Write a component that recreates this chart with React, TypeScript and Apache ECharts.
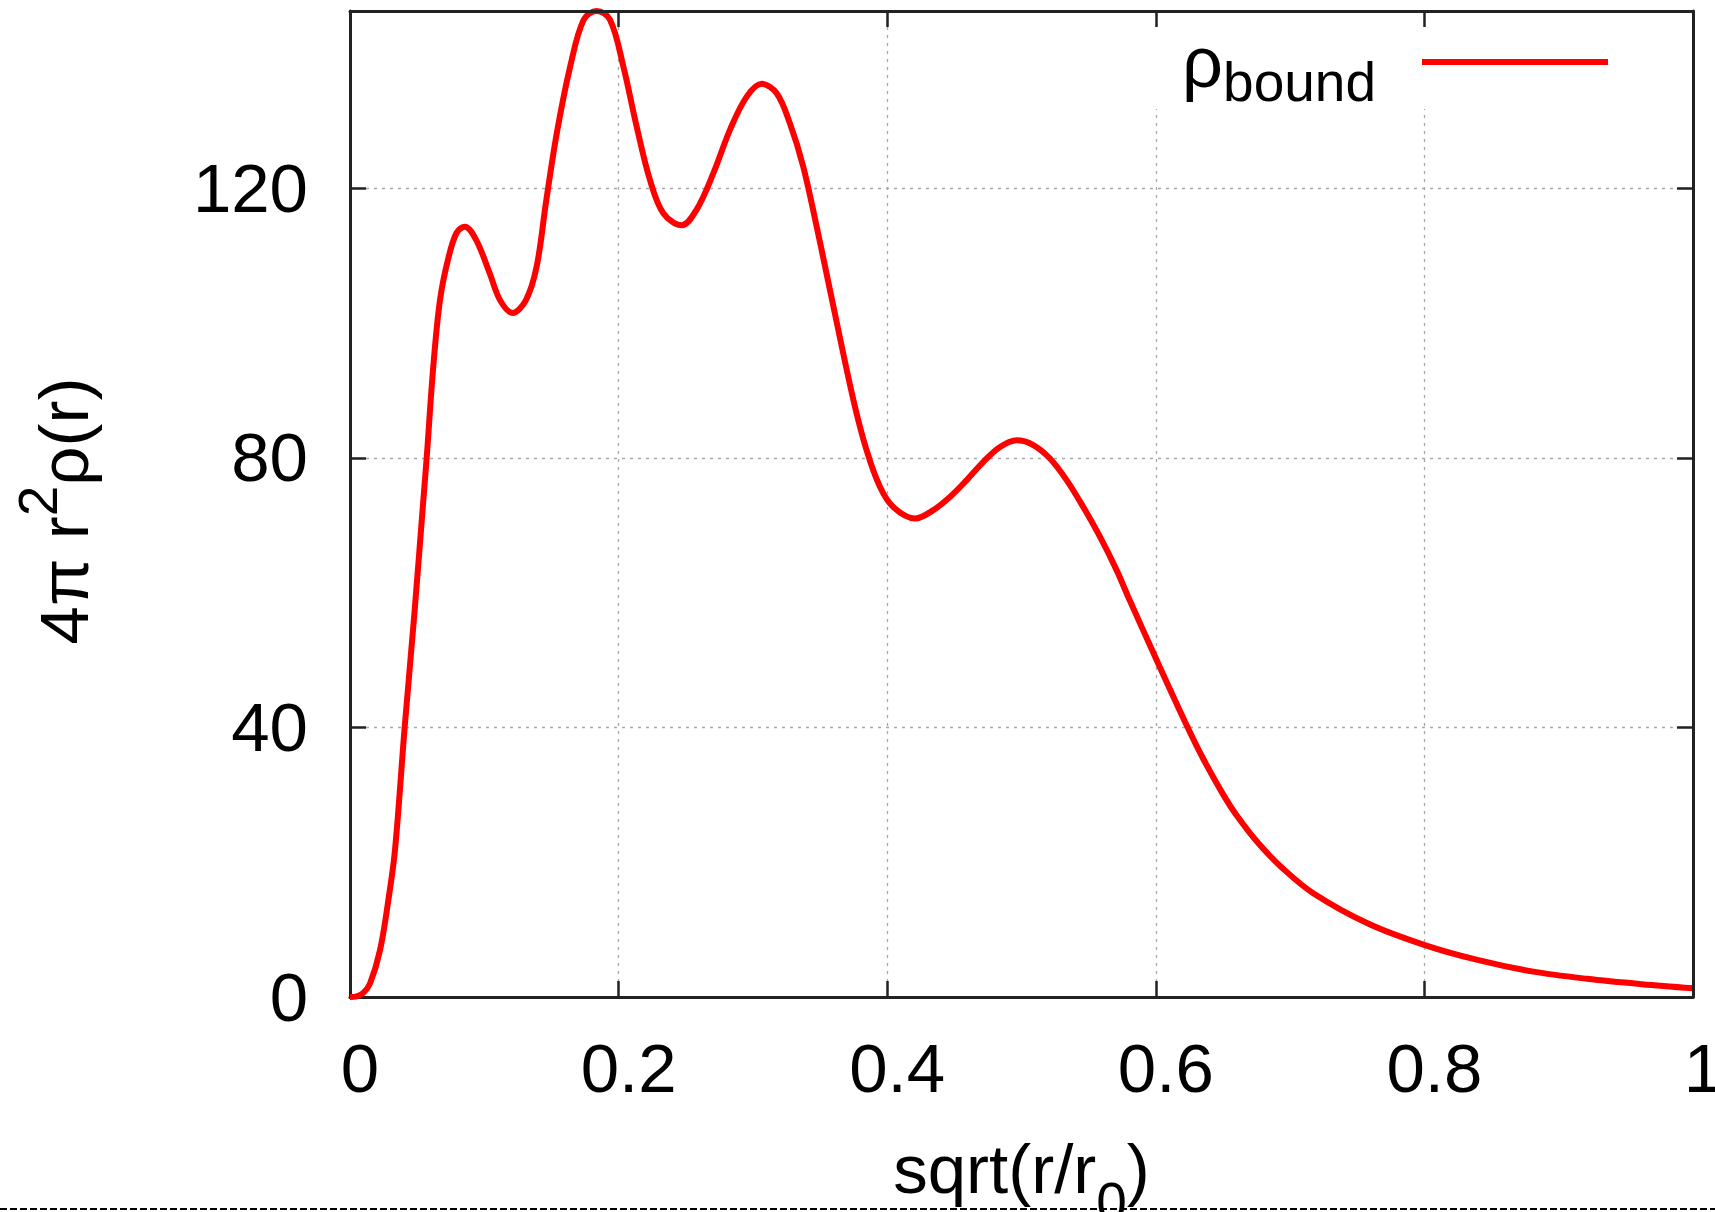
import React, { useEffect, useRef } from 'react';
import * as echarts from 'echarts';

// sqrt(r/r0) sample positions
const xValues = [
  0, 0.005, 0.0099, 0.0149, 0.0223, 0.0285, 0.0335, 0.0407, 0.048, 0.0546,
  0.0571, 0.062, 0.067, 0.0732, 0.0794, 0.0856, 0.094, 0.104, 0.1117, 0.121,
  0.131, 0.139, 0.146, 0.154, 0.164, 0.174, 0.1837, 0.1936, 0.2035, 0.2135,
  0.2234, 0.2333, 0.247, 0.258, 0.2705, 0.283, 0.2954, 0.3066, 0.3177, 0.3276,
  0.3375, 0.3475, 0.3574, 0.3748, 0.3847, 0.3946, 0.4045, 0.4207, 0.434, 0.4467,
  0.4592, 0.4716, 0.484, 0.4964, 0.5088, 0.5212, 0.5336, 0.546, 0.5584, 0.5709,
  0.5794, 0.6006, 0.6235, 0.6357, 0.65, 0.66, 0.6764, 0.695, 0.7172, 0.758,
  0.8003, 0.8395, 0.88, 0.921, 0.9617, 1.0,
];
// 4π r²ρ(r) values
const yValues = [
  0, 0.1, 0.6, 2.0, 6.9, 14.3, 21.8, 40, 57, 73.7,
  80, 93.5, 103.4, 109.6, 113.4, 114.3, 112.3, 107.4, 103.4, 101.5,
  103.4, 108.4, 118, 128.2, 138.1, 145.0, 146.3, 145, 138.1, 129.1,
  121.2, 116.3, 114.5, 116.8, 122.2, 128.7, 133.6, 135.5, 134.1, 129.6,
  123.2, 114.3, 104.9, 88.6, 81.1, 75.7, 72.7, 71.0, 72.2, 74.2,
  76.7, 79.4, 81.6, 82.6, 81.9, 79.9, 76.7, 72.7, 68.3, 63.3,
  59.4, 50.0, 40.1, 35.2, 30.1, 27.0, 22.8, 19.0, 15.4, 10.9,
  7.7, 5.5, 3.8, 2.7, 1.9, 1.3,
];
const xRange = [0, 1];
const xStep = 0.2;
const yRange = [0, 146.3];
const yStep = 40;
const seriesName = 'ρbound';

const FONT = 'Liberation Sans';
const FS = 69;
const FS_SMALL = 55;
const AXIS_COLOR = '#222';
const GRID_COLOR = '#a8a8a8';

export default function App() {
  const ref = useRef<HTMLDivElement>(null);

  useEffect(() => {
    if (!ref.current) return;
    const chart = echarts.init(ref.current, undefined, { renderer: 'svg' });

    const axisLine = { show: true, onZero: false, lineStyle: { color: AXIS_COLOR, width: 3 } };
    const axisTick = { show: true, inside: true, length: 16, lineStyle: { color: AXIS_COLOR, width: 2.5 } };
    const splitLine = { show: true, lineStyle: { color: GRID_COLOR, width: 1.3, type: [3, 5] } };

    const option: any = {
      animation: false,
      backgroundColor: '#ffffff',
      grid: {
        left: 350,
        top: 11,
        right: 22,
        bottom: 215,
        containLabel: false,
        outerBoundsMode: 'none',
      },
      legend: {
        show: true,
        data: [seriesName],
        right: 75,
        top: 11,
        align: 'right',
        orient: 'horizontal',
        padding: [4, 32, 0, 34],
        backgroundColor: '#ffffff',
        icon: 'rect',
        itemWidth: 186,
        itemHeight: 6,
        selectedMode: false,
        formatter: () => '{a|ρ}{b|bound}',
        textStyle: {
          fontFamily: FONT,
          fontSize: FS,
          color: '#000',
          rich: {
            a: { fontFamily: FONT, fontSize: 72, lineHeight: 66, color: '#000' },
            b: {
              fontFamily: FONT,
              fontSize: FS_SMALL,
              lineHeight: 94,
              color: '#000',
              verticalAlign: 'bottom',
              padding: [39, 41, 0, 0],
            },
          },
        },
      },
      xAxis: [
        {
          type: 'value',
          position: 'bottom',
          min: xRange[0],
          max: xRange[1],
          interval: xStep,
          axisLine,
          axisTick,
          splitLine,
          axisLabel: {
            show: true,
            fontFamily: FONT,
            fontSize: FS,
            color: '#000',
            margin: 37,
            padding: [0, 0, 0, 20],
            showMinLabel: true,
            showMaxLabel: true,
            hideOverlap: false,
            formatter: (v: number) => String(Math.round(v * 10) / 10),
          },
          name: '{a|sqrt(r/r}{b|0}{a|)}',
          nameLocation: 'middle',
          nameGap: 113,
          nameMoveOverlap: false,
          nameTextStyle: {
            fontFamily: FONT,
            fontSize: FS,
            color: '#000',
            rich: {
              a: { fontFamily: FONT, fontSize: FS, color: '#000' },
              b: {
                fontFamily: FONT,
                fontSize: FS_SMALL,
                color: '#000',
                verticalAlign: 'bottom',
                padding: [64, 0, 0, 0],
              },
            },
          },
        },
        {
          type: 'value',
          position: 'top',
          min: xRange[0],
          max: xRange[1],
          interval: xStep,
          z: 10,
          axisLine,
          axisTick,
          splitLine: { show: false },
          axisLabel: { show: false },
        },
      ],
      yAxis: [
        {
          type: 'value',
          position: 'left',
          min: yRange[0],
          max: yRange[1],
          interval: yStep,
          axisLine,
          axisTick,
          splitLine,
          axisLabel: {
            show: true,
            fontFamily: FONT,
            fontSize: FS,
            color: '#000',
            margin: 42,
            formatter: (v: number) => (Math.abs(v % yStep) < 1e-9 ? String(v) : ''),
          },
          name: '{a|4π r}{s|2}{a|ρ(r)}',
          nameLocation: 'middle',
          nameRotate: 90,
          nameGap: 231,
          nameMoveOverlap: false,
          nameTextStyle: {
            fontFamily: FONT,
            fontSize: FS,
            color: '#000',
            padding: [0, 14, 0, 0],
            rich: {
              a: { fontFamily: FONT, fontSize: FS, color: '#000' },
              s: {
                fontFamily: FONT,
                fontSize: FS_SMALL,
                color: '#000',
                verticalAlign: 'top',
                padding: [0, 0, 54, 0],
              },
            },
          },
        },
        {
          type: 'value',
          position: 'right',
          min: yRange[0],
          max: yRange[1],
          interval: yStep,
          z: 10,
          axisLine,
          axisTick,
          splitLine: { show: false },
          axisLabel: { show: false },
        },
      ],
      series: [
        {
          type: 'line',
          name: seriesName,
          xAxisIndex: 0,
          yAxisIndex: 0,
          data: xValues.map((x, i) => [x, yValues[i]]),
          symbol: 'none',
          showSymbol: false,
          smooth: 0.35,
          clip: true,
          z: 3,
          lineStyle: { color: '#ff0000', width: 6 },
          itemStyle: { color: '#ff0000' },
        },
      ],
      graphic: [
        {
          type: 'line',
          z: 100,
          shape: { x1: 0, y1: 1209, x2: 1715, y2: 1209 },
          style: { stroke: '#000', lineWidth: 2, lineDash: [7, 3] },
        },
      ],
    };

    chart.setOption(option);
    return () => {
      chart.dispose();
    };
  }, []);

  return (
    <div
      ref={ref}
      style={{ position: 'absolute', left: 0, top: 0, width: 1715, height: 1212, background: '#fff' }}
    />
  );
}
